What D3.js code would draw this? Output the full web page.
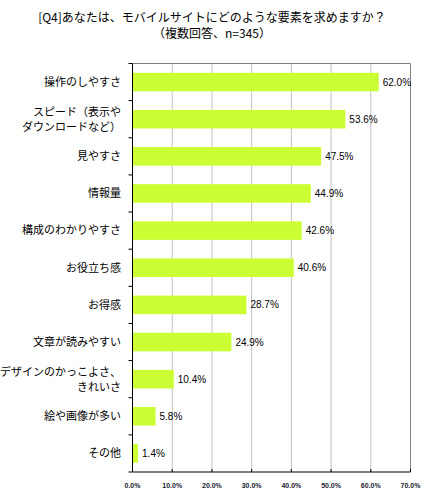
<!DOCTYPE html>
<html><head><meta charset="utf-8">
<script src="https://cdn.jsdelivr.net/npm/d3@7"></script>
<style>body{margin:0;background:#fff}svg{display:block}</style>
</head><body>
<svg id="c" width="425" height="493"></svg>
<script>
const titleLines = ["[Q4]あなたは、モバイルサイトにどのような要素を求めますか？", "（複数回答、n=345）"];
const categories = [
  ["操作のしやすさ"],
  ["スピード（表示や", "ダウンロードなど）"],
  ["見やすさ"],
  ["情報量"],
  ["構成のわかりやすさ"],
  ["お役立ち感"],
  ["お得感"],
  ["文章が読みやすい"],
  ["デザインのかっこよさ、", "きれいさ"],
  ["絵や画像が多い"],
  ["その他"]
];
const values = [62.0, 53.6, 47.5, 44.9, 42.6, 40.6, 28.7, 24.9, 10.4, 5.8, 1.4];
const xTicks = [0, 10, 20, 30, 40, 50, 60, 70];

const svg = d3.select("#c");
const font = "'Noto Sans CJK JP', 'Noto Sans', sans-serif";
const pL = 132.5, pR = 410.5, pT = 63.5, pB = 472;

const x = d3.scaleLinear().domain([0, 70]).range([pL, pR]);
const y = d3.scaleBand().domain(d3.range(categories.length)).range([pT, pB]).paddingInner(0.5).paddingOuter(0.25);

// title
svg.append("g").selectAll("text").data(titleLines).join("text")
  .attr("x", 212).attr("y", (d, i) => 21.5 + i * 16.5)
  .attr("text-anchor", "middle").attr("font-family", font).attr("font-size", 12).attr("fill", "#000")
  .text(d => d);

// gridlines
svg.append("g").selectAll("line").data(xTicks.slice(1, -1)).join("line")
  .attr("x1", d => x(d)).attr("x2", d => x(d)).attr("y1", pT).attr("y2", pB)
  .attr("stroke", "#c0c0c0").attr("stroke-width", 1);

// plot frame top/right
svg.append("path").attr("d", `M${pL},${pT}H${pR}V${pB}`).attr("fill", "none").attr("stroke", "#808080");

// bars
svg.append("g").selectAll("rect").data(values).join("rect")
  .attr("x", x(0)).attr("y", (d, i) => y(i)).attr("width", d => x(d) - x(0)).attr("height", y.bandwidth())
  .attr("fill", "#ccff33");

// value labels
svg.append("g").selectAll("text").data(values).join("text")
  .attr("x", d => x(d) + 4).attr("y", (d, i) => y(i) + y.bandwidth() / 2)
  .attr("dy", "0.35em").attr("font-family", "'Liberation Sans', Arial, sans-serif").attr("font-size", 10).attr("fill", "#000")
  .text(d => d.toFixed(1) + "%");

// left axis
const step = (pB - pT) / categories.length;
const ly = svg.append("g");
ly.append("line").attr("x1", pL).attr("x2", pL).attr("y1", pT).attr("y2", pB).attr("stroke", "#000");
ly.selectAll("line.t").data(d3.range(categories.length + 1)).join("line").attr("class", "t")
  .attr("x1", pL - 4).attr("x2", pL).attr("y1", i => pT + i * step).attr("y2", i => pT + i * step).attr("stroke", "#000");

// category labels
const cl = svg.append("g").selectAll("text").data(categories).join("text")
  .attr("text-anchor", "end").attr("font-family", font).attr("font-size", 11).attr("fill", "#000")
  .attr("transform", (d, i) => `translate(121,${y(i) + y.bandwidth() / 2})`);
cl.selectAll("tspan").data(d => d.map((t, j) => ({t, j, n: d.length}))).join("tspan")
  .attr("x", 0).attr("y", d => (d.j - (d.n - 1) / 2) * 15).attr("dy", "0.35em").text(d => d.t);

// bottom axis
const bx = svg.append("g");
bx.append("line").attr("x1", pL).attr("x2", pR).attr("y1", pB).attr("y2", pB).attr("stroke", "#000");
bx.selectAll("line.t").data(xTicks).join("line").attr("class", "t")
  .attr("x1", d => x(d)).attr("x2", d => x(d)).attr("y1", pB - 3).attr("y2", pB).attr("stroke", "#000");
bx.selectAll("text").data(xTicks).join("text")
  .attr("x", d => x(d)).attr("y", 488).attr("text-anchor", "middle")
  .attr("font-family", "'Liberation Sans', Arial, sans-serif").attr("font-size", 7).attr("font-weight", "bold").attr("fill", "#1a1a33")
  .text(d => d.toFixed(1) + "%");
</script>
</body></html>
